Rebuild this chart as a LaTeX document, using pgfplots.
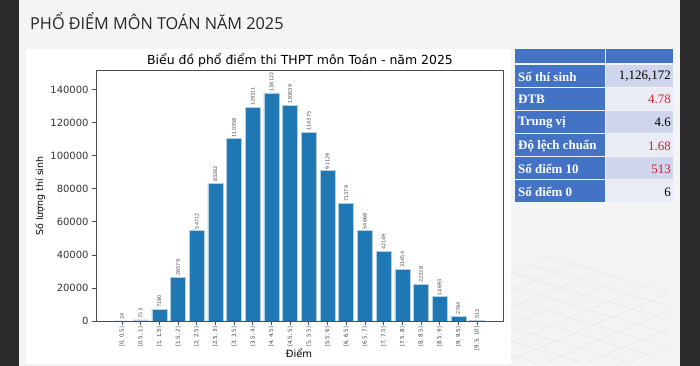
\documentclass[border=0pt]{standalone}
\usepackage{fontspec}
\usepackage{pgfplots}
\pgfplotsset{compat=1.18}
\setmainfont{DejaVu Sans}
\newfontfamily\slidefont{Open Sans}
\newfontfamily\tabfont{Liberation Serif}
\definecolor{mplblue}{HTML}{1F77B4}
\definecolor{slidebg}{HTML}{F4F4F4}
\definecolor{darkside}{HTML}{2B2B2B}
\definecolor{tabblue}{HTML}{4472C4}
\definecolor{rowA}{HTML}{CFD5EA}
\definecolor{rowB}{HTML}{E9EBF5}
\definecolor{valred}{HTML}{D42A2A}
\definecolor{valred2}{HTML}{C0202E}
\begin{document}
\begin{tikzpicture}
% ---------- slide background ----------
\useasboundingbox (0,0) rectangle (700bp,366bp);
\fill[darkside] (0,0) rectangle (700bp,366bp);
\fill[slidebg] (19bp,0) rectangle (680bp,366bp);
\begin{scope}[x=1bp,y=-1bp,yshift=366bp]
  % decorative grid
  \begin{scope}
    \clip (511,252) rectangle (668,362);
    \foreach \k in {0,...,9}{
      \draw[black!9,line width=0.6bp] ({550-19*\k},{257+8*\k}) -- ++(200,60);
      \draw[black!9,line width=0.6bp] ({550+24*\k},{257+7.2*\k}) -- ++(-200,84);
    }
  \end{scope}
  % white chart panel
  \fill[white] (26,49) rectangle (511,364);
  % slide title
  \node[anchor=base west,inner sep=0,font=\slidefont\fontsize{16.5}{18}\selectfont,text=black!85,xscale=0.99] at (30,29.5) {PHỔ ĐIỂM MÔN TOÁN NĂM 2025};
  % ---------- table ----------
  \fill[tabblue] (515,49) rectangle (604.5,63);
  \fill[tabblue] (606,49) rectangle (673,63);
  \foreach \i/\lab/\val/\col/\bg in {
      0/Số thí sinh/{1,126,172}/black/rowA,
      1/ĐTB/4.78/valred/rowB,
      2/Trung vị/4.6/black/rowA,
      3/Độ lệch chuẩn/1.68/valred2/rowB,
      4/Số điểm 10/513/valred2/rowA,
      5/Số điểm 0/6/black/rowB}{
    \pgfmathsetmacro{\yt}{65+23.1*\i}
    \fill[tabblue] (515,\yt) rectangle (604.5,\yt+22);
    \fill[\bg] (606,\yt) rectangle (673,\yt+22);
    \node[anchor=west,inner sep=0,text=white,font=\tabfont\bfseries\fontsize{13}{14}\selectfont] at (518,\yt+11.5) {\lab};
    \node[anchor=east,inner sep=0,text=\col,font=\tabfont\fontsize{13}{14}\selectfont] at (671,\yt+11.5) {\val};
  }
  % chart texts
  \node[font=\fontsize{12.5}{14}\selectfont,inner sep=0] at (300,60) {Biểu đồ phổ điểm thi THPT môn Toán - năm 2025};
  \node[font=\fontsize{9.5}{11}\selectfont,inner sep=0,rotate=90] at (40,196) {Số lượng thí sinh};
  \node[font=\fontsize{10}{12}\selectfont,inner sep=0] at (299,353) {Điểm};
\end{scope}
% ---------- the chart ----------
\begin{axis}[
  at={(96bp,45bp)}, anchor=south west,
  scale only axis, width=407bp, height=251bp,
  xmin=-1.39, xmax=20.39, ymin=0, ymax=151934,
  axis line style={black!70, line width=0.8bp},
  tick style={black!70, line width=0.8bp},
  tick align=outside, major tick length=4bp,
  xtick pos=left, ytick pos=left,
  xtick={0,...,19},
  xticklabels={{[0, 0.5)},{[0.5, 1)},{[1, 1.5)},{[1.5, 2)},{[2, 2.5)},{[2.5, 3)},{[3, 3.5)},{[3.5, 4)},{[4, 4.5)},{[4.5, 5)},{[5, 5.5)},{[5.5, 6)},{[6, 6.5)},{[6.5, 7)},{[7, 7.5)},{[7.5, 8)},{[8, 8.5)},{[8.5, 9)},{[9, 9.5)},{[9.5, 10]}},
  xticklabel style={rotate=90, anchor=east, font=\fontsize{5.5}{6}\selectfont, text=black!75, inner sep=1.5bp},
  scaled y ticks=false,
  ytick={0,20000,40000,60000,80000,100000,120000,140000},
  yticklabels={0,20000,40000,60000,80000,100000,120000,140000},
  yticklabel style={font=\fontsize{10}{12}\selectfont, text=black!80},
  enlargelimits=false,
]
\addplot[ybar, bar width=0.8, bar shift=0pt, fill=mplblue, draw=mplblue!35!white, line width=0.5bp,
  point meta=explicit symbolic,
  nodes near coords,
  every node near coord/.append style={rotate=90, anchor=west, font=\fontsize{5}{6}\selectfont, text=black!70, inner sep=1.2bp}]
  coordinates {
  (0,24) [24] (1,753) [753] (2,7190) [7190] (3,26579) [26579] (4,54712) [54712]
  (5,83262) [83262] (6,110358) [110358] (7,129311) [129311] (8,138122) [138122] (9,130639) [130639]
  (10,114375) [114375] (11,91129) [91129] (12,71379) [71379] (13,54668) [54668] (14,42149) [42149]
  (15,31454) [31454] (16,22328) [22328] (17,14693) [14693] (18,2784) [2784] (19,513) [513]};
\end{axis}
\end{tikzpicture}
\end{document}
